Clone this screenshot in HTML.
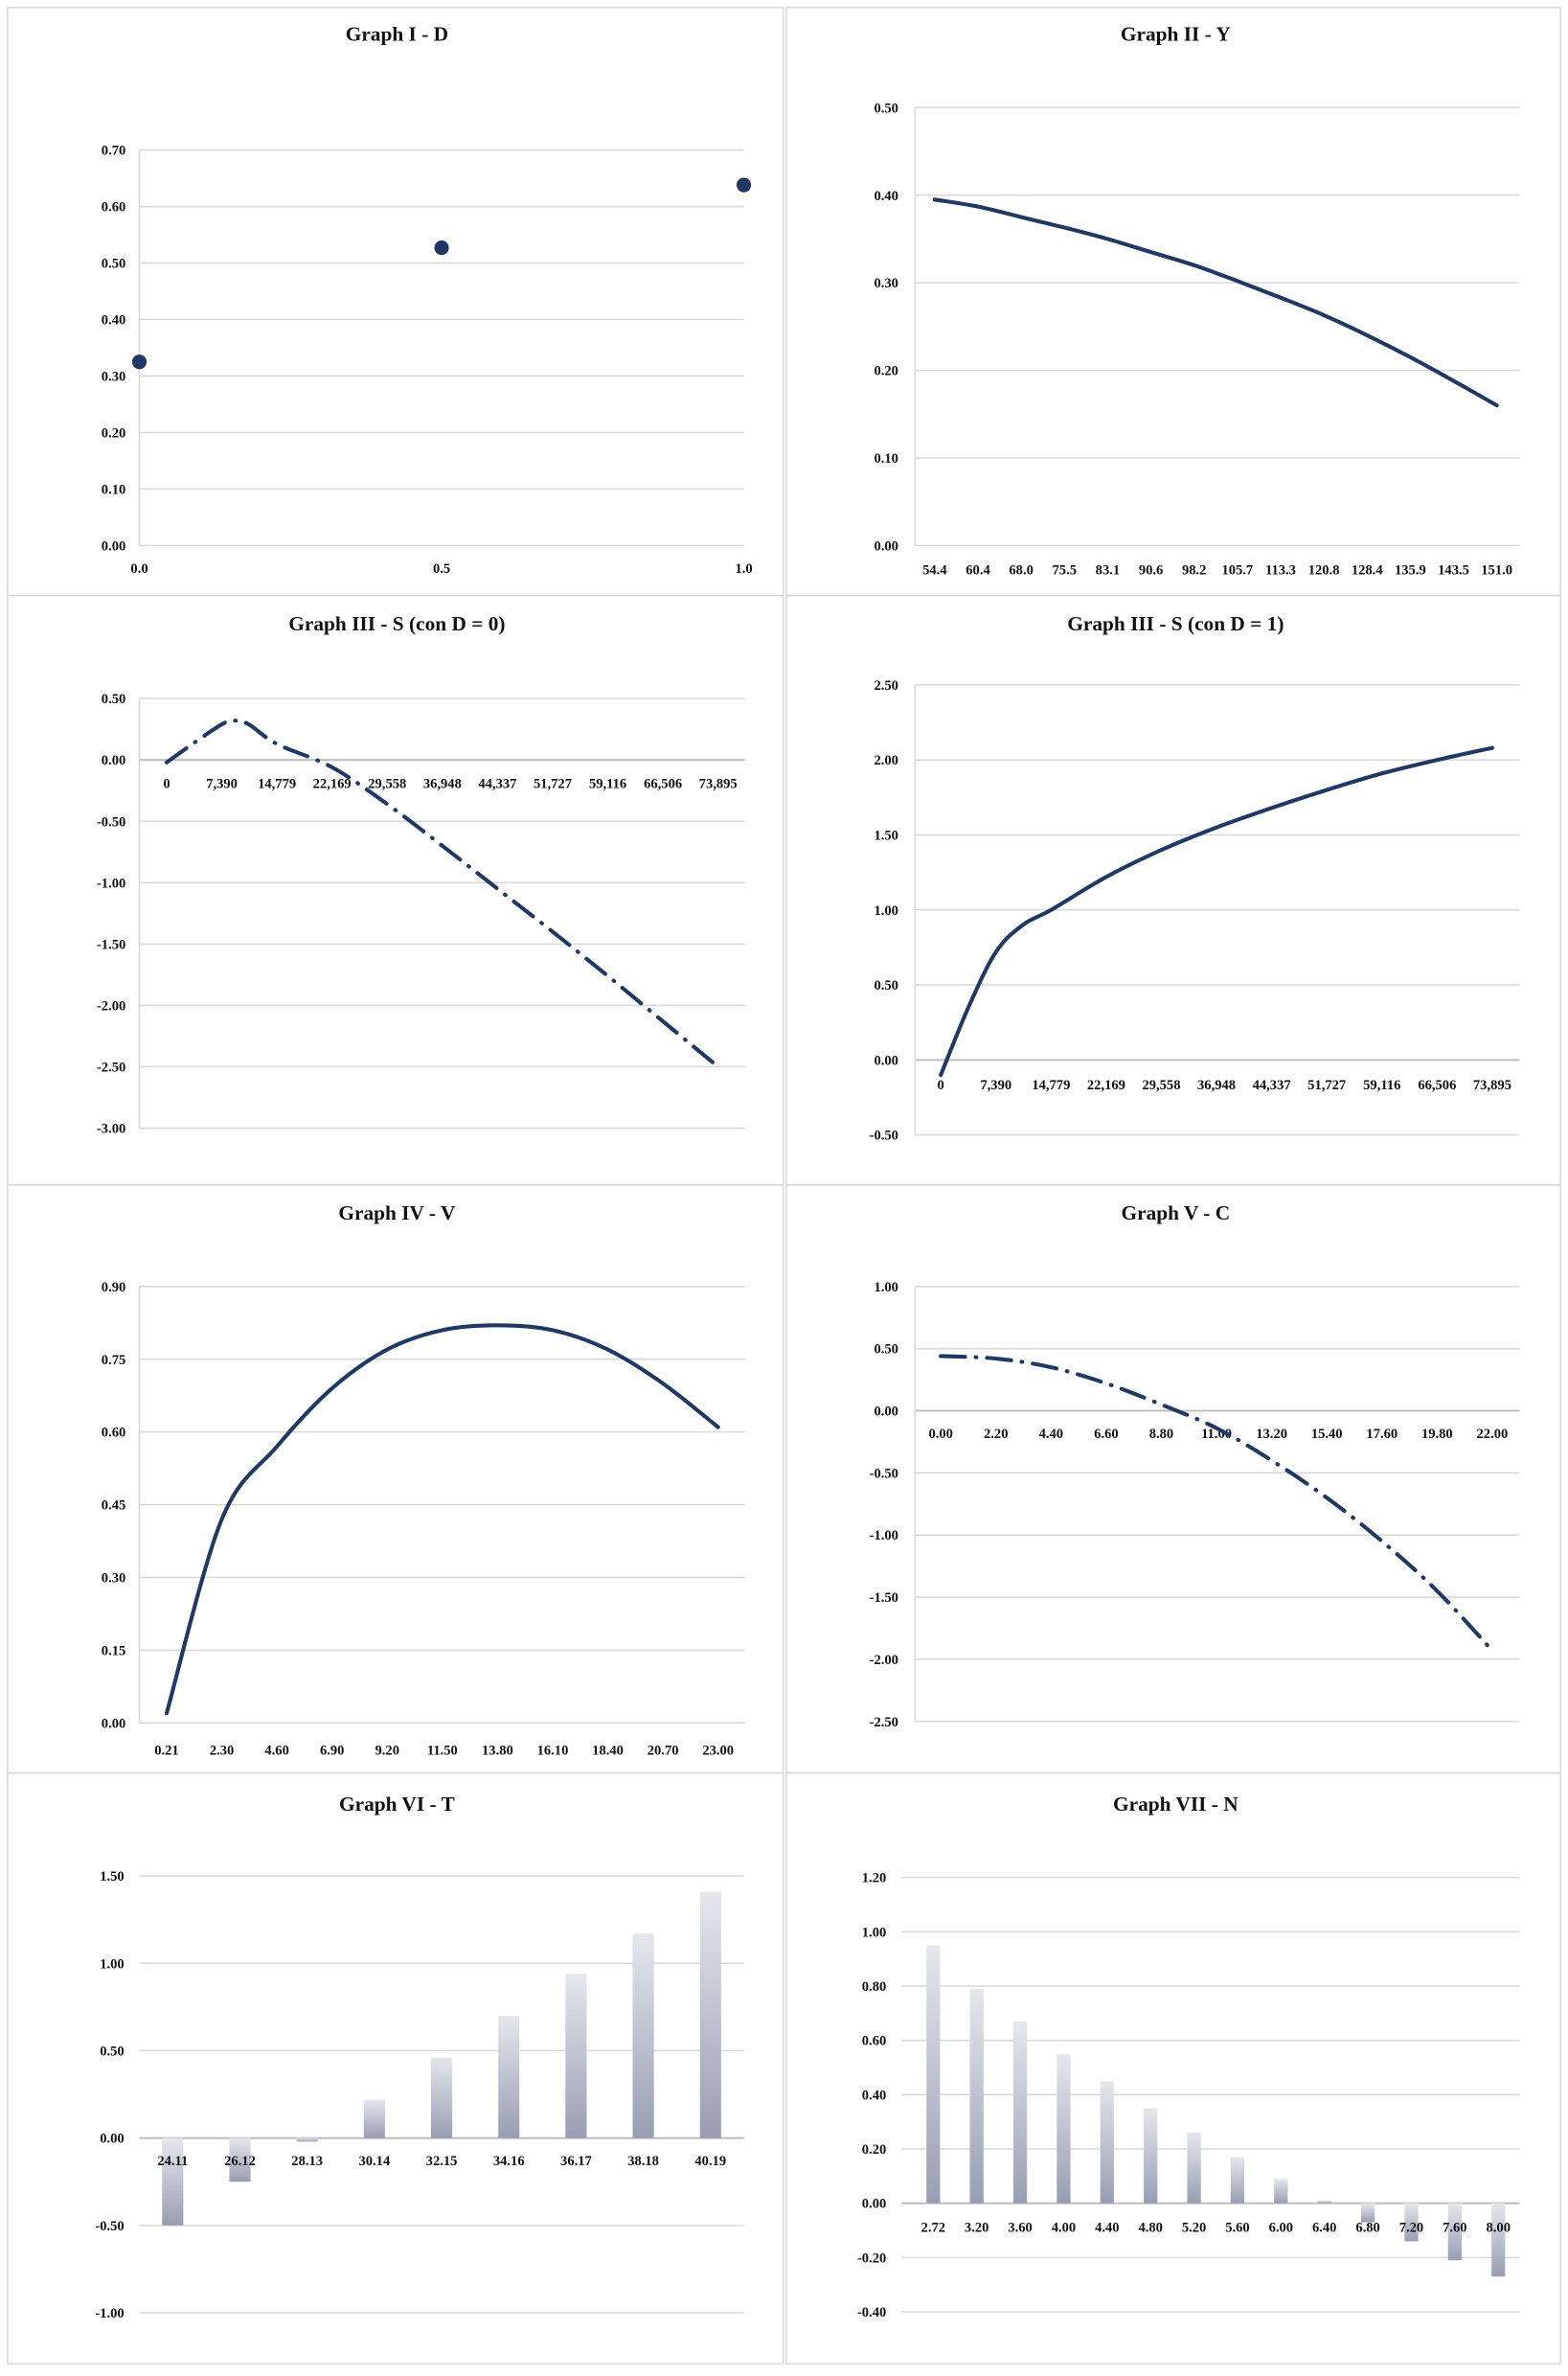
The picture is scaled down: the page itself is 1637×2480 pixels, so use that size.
<!DOCTYPE html>
<html><head><meta charset="utf-8">
<style>
html,body{margin:0;padding:0;background:#fff;}
svg{display:block;}
text{font-family:"Liberation Serif",serif;font-weight:bold;fill:#111;}
</style></head>
<body>
<svg id="fig" width="1637" height="2480" viewBox="0 0 1035 1568" xmlns="http://www.w3.org/2000/svg">
<defs>
<linearGradient id="barGrad" x1="0" y1="0" x2="0" y2="1">
<stop offset="0" stop-color="#e6e7ec"/><stop offset="1" stop-color="#989db2"/>
</linearGradient>
</defs>
</svg>
<script>
// ---- Graph I - D ----
const g1Cats = [0.0, 0.5, 1.0];
const g1Vals = [0.325, 0.527, 0.638];
const g1Ticks = ["0.00","0.10","0.20","0.30","0.40","0.50","0.60","0.70"];
const g1XLabels = ["0.0","0.5","1.0"];
// ---- Graph II - Y ----
const g2Cats = ["54.4","60.4","68.0","75.5","83.1","90.6","98.2","105.7","113.3","120.8","128.4","135.9","143.5","151.0"];
const g2Vals = [0.395,0.387,0.375,0.363,0.350,0.335,0.320,0.302,0.283,0.263,0.240,0.215,0.188,0.160];
const g2Ticks = ["0.00","0.10","0.20","0.30","0.40","0.50"];
// ---- Graph III - S (D=0) ----
const g3XLabels = ["0","7,390","14,779","22,169","29,558","36,948","44,337","51,727","59,116","66,506","73,895"];
const g3X = [0,3695,7390,9000,11000,14779,22169,29558,36948,44337,51727,59116,66506,73895];
const g3Vals = [-0.02,0.14,0.29,0.32,0.29,0.13,-0.06,-0.36,-0.70,-1.05,-1.40,-1.76,-2.13,-2.50];
const g3Ticks = ["-3.00","-2.50","-2.00","-1.50","-1.00","-0.50","0.00","0.50"];
// ---- Graph III - S (D=1) ----
const g4XLabels = g3XLabels;
const g4X = [0,3695,7390,11000,14779,22169,29558,36948,44337,51727,59116,66506,73895];
const g4Vals = [-0.10,0.35,0.72,0.90,1.00,1.22,1.40,1.55,1.68,1.80,1.91,2.00,2.08];
const g4Ticks = ["-0.50","0.00","0.50","1.00","1.50","2.00","2.50"];
// ---- Graph IV - V ----
const g5XLabels = ["0.21","2.30","4.60","6.90","9.20","11.50","13.80","16.10","18.40","20.70","23.00"];
const g5X = [0,2.3,4.6,6.9,9.2,11.5,13.8,16.1,18.4,20.7,23.0];
const g5Vals = [0.02,0.42,0.57,0.69,0.77,0.81,0.82,0.81,0.77,0.70,0.61];
const g5Ticks = ["0.00","0.15","0.30","0.45","0.60","0.75","0.90"];
// ---- Graph V - C ----
const g6XLabels = ["0.00","2.20","4.40","6.60","8.80","11.00","13.20","15.40","17.60","19.80","22.00"];
const g6X = [0,2.2,4.4,6.6,8.8,11,13.2,15.4,17.6,19.8,22];
const g6Vals = [0.44,0.42,0.35,0.22,0.05,-0.14,-0.40,-0.70,-1.05,-1.45,-1.93];
const g6Ticks = ["-2.50","-2.00","-1.50","-1.00","-0.50","0.00","0.50","1.00"];
// ---- Graph VI - T ----
const g7Cats = ["24.11","26.12","28.13","30.14","32.15","34.16","36.17","38.18","40.19"];
const g7Vals = [-0.50,-0.25,-0.02,0.22,0.46,0.70,0.94,1.17,1.41];
const g7Ticks = ["-1.00","-0.50","0.00","0.50","1.00","1.50"];
// ---- Graph VII - N ----
const g8Cats = ["2.72","3.20","3.60","4.00","4.40","4.80","5.20","5.60","6.00","6.40","6.80","7.20","7.60","8.00"];
const g8Vals = [0.95,0.79,0.67,0.55,0.45,0.35,0.26,0.17,0.09,0.01,-0.07,-0.14,-0.21,-0.27];
const g8Ticks = ["-0.40","-0.20","0.00","0.20","0.40","0.60","0.80","1.00","1.20"];

const NS = "http://www.w3.org/2000/svg";
const svg = document.getElementById('fig');
const NAVY = "#1f3864";
function mk(tag, attrs, parent){
  const e = document.createElementNS(NS, tag);
  for (const k in attrs) e.setAttribute(k, attrs[k]);
  (parent||svg).appendChild(e);
  return e;
}
function linScale(d0,d1,r0,r1){ return v => r0 + (v-d0)/(d1-d0)*(r1-r0); }
function smoothPath(pts){
  let d = "M"+pts[0][0]+","+pts[0][1];
  for (let i=0;i<pts.length-1;i++){
    const p0=pts[Math.max(0,i-1)], p1=pts[i], p2=pts[i+1], p3=pts[Math.min(pts.length-1,i+2)];
    const c1=[p1[0]+(p2[0]-p0[0])/6, p1[1]+(p2[1]-p0[1])/6];
    const c2=[p2[0]-(p3[0]-p1[0])/6, p2[1]-(p3[1]-p1[1])/6];
    d += " C"+c1[0]+","+c1[1]+" "+c2[0]+","+c2[1]+" "+p2[0]+","+p2[1];
  }
  return d;
}

const panels = [[5,5,512,388,"panel-graph-i"],[519,5,511,388,"panel-graph-ii"],
  [5,393,512,389,"panel-graph-iii-d0"],[519,393,511,389,"panel-graph-iii-d1"],
  [5,782,512,388,"panel-graph-iv"],[519,782,511,388,"panel-graph-v"],
  [5,1170,512,390,"panel-graph-vi"],[519,1170,511,390,"panel-graph-vii"]];
panels.forEach(p=>{
  const r = mk('rect',{x:p[0],y:p[1],width:p[2],height:p[3],fill:"none",stroke:"#d9d9d9","stroke-width":1});
  
  
});

function title(txt, cx, y, name){
  const t = mk('text',{x:cx,y:y,"text-anchor":"middle","font-size":13.5});
  t.textContent = txt;
  
  
}
function yAxis(ticks, yScale, left, right, labelX, zeroDark, showAxis, name){
  ticks.forEach(tk=>{
    const v = parseFloat(tk), y = yScale(v);
    const isZero = Math.abs(v)<1e-9;
    const l = mk('line',{x1:left,x2:right,y1:y,y2:y,stroke:(isZero&&zeroDark)?"#bfbfbf":"#d9d9d9","stroke-width":isZero&&zeroDark?1.3:1});
    
    
    const t = mk('text',{x:labelX,y:y+3.2,"text-anchor":"end","font-size":9.2});
    t.textContent = tk;
    
    
  });
  if (showAxis){
    const ys = ticks.map(t=>yScale(parseFloat(t)));
    const a = mk('line',{x1:left,x2:left,y1:Math.min(...ys),y2:Math.max(...ys),stroke:"#d9d9d9","stroke-width":1});
    
    
  }
}
function xLabels(labels, xPos, y){
  labels.forEach((lb,i)=>{
    const t = mk('text',{x:xPos(i),y:y,"text-anchor":"middle","font-size":9.2});
    t.textContent = lb;
    
    
  });
}
function line(pts, dashed, name){
  const attrs = {d:smoothPath(pts),fill:"none",stroke:NAVY,"stroke-width":2.6,"stroke-linecap":"round"};
  if (dashed) attrs["stroke-dasharray"] = "16 7 0.5 7";
  const p = mk('path',attrs);
  
  
}

(function(){
  title("Graph I - D", 262, 27, "title-graph-i");
  const ys = linScale(0,0.7,360,99), xs = linScale(0,1,92,491);
  yAxis(g1Ticks, ys, 92, 491, 83, false, true, "graph-i");
  g1XLabels.forEach((lb)=>{
    const t = mk('text',{x:xs(parseFloat(lb)),y:378,"text-anchor":"middle","font-size":9.2});
    t.textContent = lb;
    
    
  });
  g1Cats.forEach((c,i)=>{
    const m = mk('circle',{cx:xs(c),cy:ys(g1Vals[i]),r:4.8,fill:NAVY});
    
    
  });
})();

(function(){
  title("Graph II - Y", 776, 27, "title-graph-ii");
  const ys = linScale(0,0.5,360,71);
  const step = (988-617)/13, xp = i => 617 + i*step;
  yAxis(g2Ticks, ys, 604, 1003, 593, false, true, "graph-ii");
  xLabels(g2Cats, xp, 379);
  line(g2Vals.map((v,i)=>[xp(i), ys(v)]), false, "line-y");
})();

(function(){
  title("Graph III - S (con D = 0)", 262, 416, "title-graph-iii-d0");
  const ys = linScale(0,0.5,501.5,461);
  const xs = linScale(0,73895,110,474);
  const step = (474-110)/10, xp = i => 110 + i*step;
  yAxis(g3Ticks, ys, 92, 492, 83, true, true, "graph-iii-d0");
  xLabels(g3XLabels, xp, 520);
  line(g3X.map((x,i)=>[xs(x), ys(g3Vals[i])]), true, "line-s-d0");
})();

(function(){
  title("Graph III - S (con D = 1)", 776, 416, "title-graph-iii-d1");
  const ys = linScale(0,0.5,699.5,650);
  const xs = linScale(0,73895,621,985);
  const step = (985-621)/10, xp = i => 621 + i*step;
  yAxis(g4Ticks, ys, 604, 1003, 593, true, true, "graph-iii-d1");
  xLabels(g4XLabels, xp, 719);
  line(g4X.map((x,i)=>[xs(x), ys(g4Vals[i])]), false, "line-s-d1");
})();

(function(){
  title("Graph IV - V", 262, 805, "title-graph-iv");
  const ys = linScale(0,0.9,1137,849);
  const xs = linScale(0,23,110,474);
  const step = (474-110)/10, xp = i => 110 + i*step;
  yAxis(g5Ticks, ys, 92, 492, 83, false, true, "graph-iv");
  xLabels(g5XLabels, xp, 1158);
  line(g5X.map((x,i)=>[xs(x), ys(g5Vals[i])]), false, "line-v");
})();

(function(){
  title("Graph V - C", 776, 805, "title-graph-v");
  const ys = linScale(0,1,931,849);
  const xs = linScale(0,22,621,985);
  const step = (985-621)/10, xp = i => 621 + i*step;
  yAxis(g6Ticks, ys, 604, 1003, 593, true, true, "graph-v");
  xLabels(g6XLabels, xp, 949);
  line(g6X.map((x,i)=>[xs(x), ys(g6Vals[i])]), true, "line-c");
})();

(function(){
  title("Graph VI - T", 262, 1195, "title-graph-vi");
  const ys = linScale(0,1.5,1411,1238);
  const step = (469-114)/8, xp = i => 114 + i*step;
  yAxis(g7Ticks, ys, 92, 491, 82, true, false, "graph-vi");
  g7Vals.forEach((v,i)=>{
    const y0 = ys(0), y1 = ys(v);
    const b = mk('rect',{x:xp(i)-7,y:Math.min(y0,y1),width:14,height:Math.max(0.8,Math.abs(y1-y0)),fill:"url(#barGrad)"});
    
    
  });
  xLabels(g7Cats, xp, 1429);
})();

(function(){
  title("Graph VII - N", 776, 1195, "title-graph-vii");
  const ys = linScale(0,1.2,1454,1239);
  const step = (989-616)/13, xp = i => 616 + i*step;
  yAxis(g8Ticks, ys, 595, 1003, 585, true, false, "graph-vii");
  g8Vals.forEach((v,i)=>{
    const y0 = ys(0), y1 = ys(v);
    const b = mk('rect',{x:xp(i)-4.5,y:Math.min(y0,y1),width:9,height:Math.max(0.8,Math.abs(y1-y0)),fill:"url(#barGrad)"});
    
    
  });
  xLabels(g8Cats, xp, 1473);
})();
</script>
</body></html>
